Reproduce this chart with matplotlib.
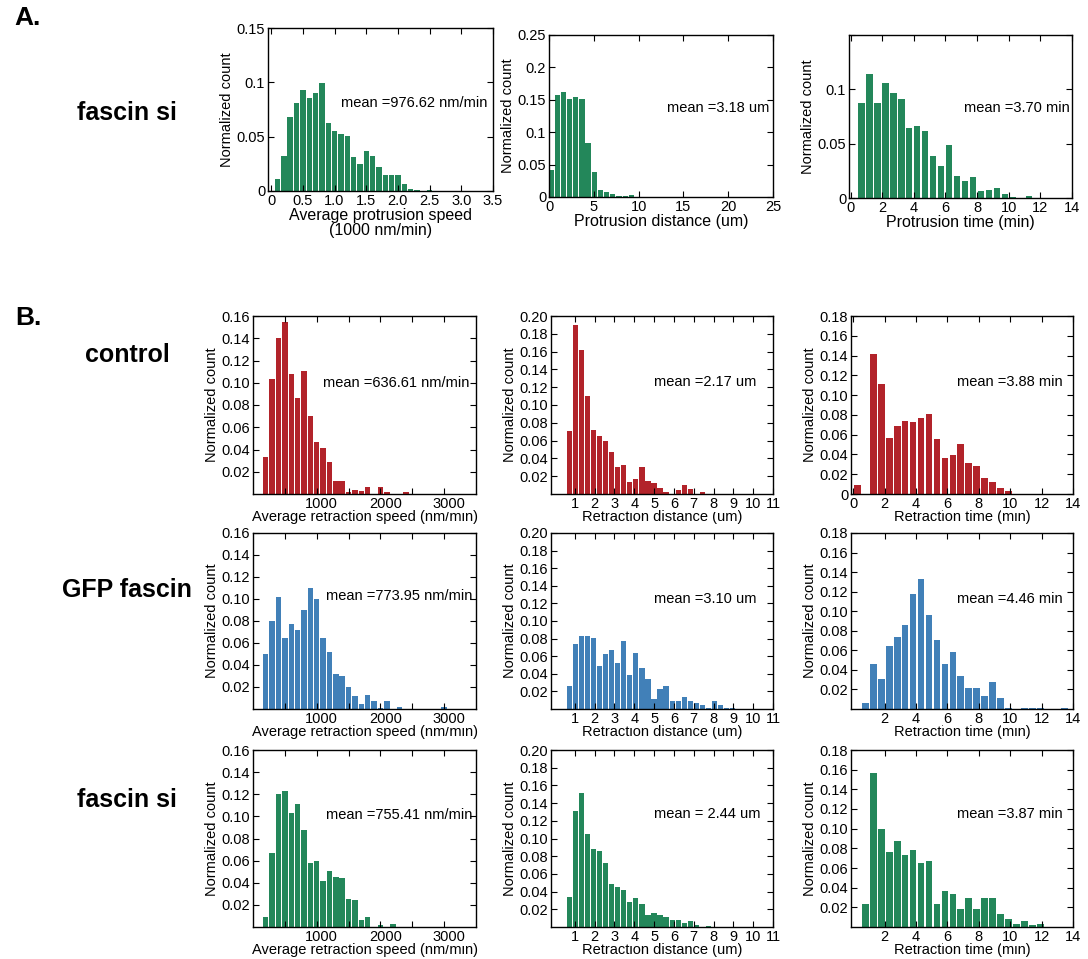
import matplotlib
matplotlib.use('Agg')
import matplotlib.pyplot as plt
import matplotlib.transforms as mtransforms
import numpy as np
from matplotlib.ticker import FixedLocator, FixedFormatter

plt.rcParams['font.family'] = ['Liberation Sans', 'DejaVu Sans']

W, H = 1088, 959
fig = plt.figure(figsize=(W / 100, H / 100), dpi=100)

GREEN = '#23875a'
RED = '#b2232a'
BLUE = '#4180b8'

# ---------------- data (normalized counts per bin) ----------------
# A: fascin si, protrusion
a_speed_start, a_speed_width = 0.1, 0.1
a_speed = [0.011, 0.032, 0.068, 0.081, 0.093, 0.086, 0.090, 0.099, 0.063, 0.055,
           0.052, 0.051, 0.031, 0.025, 0.037, 0.032, 0.022, 0.015, 0.015, 0.015,
           0.006, 0.002, 0.0005, 0.0, 0.0005]
a_dist_start, a_dist_width = 0.22, 0.69
a_dist = [0.042, 0.157, 0.162, 0.152, 0.155, 0.152, 0.083, 0.038, 0.011, 0.007,
          0.005, 0.001, 0.001, 0.003]
a_time_start, a_time_width = 0.67, 0.505
a_time = [0.087, 0.114, 0.087, 0.106, 0.097, 0.091, 0.064, 0.066, 0.062, 0.039,
          0.029, 0.049, 0.020, 0.016, 0.019, 0.006, 0.007, 0.009, 0.004, 0.0005,
          0.0, 0.002]

# B: retraction, three conditions
b_speed_start, b_speed_width = 200, 100
b_speed_control = [0.033, 0.103, 0.140, 0.155, 0.108, 0.086, 0.111, 0.070, 0.047, 0.041,
                   0.029, 0.012, 0.012, 0.002, 0.004, 0.003, 0.006, 0.0, 0.006, 0.002,
                   0.0, 0.0, 0.002]
b_speed_gfp = [0.050, 0.080, 0.102, 0.065, 0.077, 0.072, 0.090, 0.110, 0.100, 0.065,
               0.052, 0.032, 0.030, 0.020, 0.012, 0.005, 0.013, 0.007, 0.001, 0.007,
               0.0, 0.002, 0.0, 0.0, 0.0, 0.0, 0.0, 0.0, 0.002]
b_speed_si = [0.009, 0.067, 0.120, 0.123, 0.103, 0.111, 0.088, 0.058, 0.060, 0.042,
              0.051, 0.045, 0.044, 0.025, 0.024, 0.006, 0.009, 0.0, 0.002, 0.0, 0.003]

b_dist_start, b_dist_width = 0.74, 0.304
b_dist_control = [0.0705, 0.190, 0.162, 0.110, 0.072, 0.065, 0.059, 0.047, 0.030, 0.033,
                  0.0135, 0.017, 0.030, 0.015, 0.012, 0.007, 0.002, 0.0, 0.005, 0.0105,
                  0.0056, 0.0, 0.002]
b_dist_gfp = [0.026, 0.074, 0.083, 0.083, 0.081, 0.049, 0.062, 0.067, 0.052, 0.077,
              0.039, 0.064, 0.047, 0.034, 0.011, 0.023, 0.026, 0.009, 0.009, 0.014,
              0.009, 0.007, 0.004, 0.001, 0.009, 0.004, 0.001, 0.001]
b_dist_si = [0.034, 0.131, 0.151, 0.105, 0.088, 0.086, 0.072, 0.049, 0.045, 0.042,
             0.028, 0.033, 0.026, 0.013, 0.016, 0.014, 0.011, 0.008, 0.008, 0.004,
             0.007, 0.002, 0.0, 0.001]

b_time_start, b_time_width = 0.25, 0.508
b_time_control = [0.009, 0.0, 0.142, 0.111, 0.057, 0.069, 0.074, 0.073, 0.077, 0.081,
                  0.056, 0.036, 0.039, 0.051, 0.031, 0.028, 0.016, 0.012, 0.006, 0.003]
b_time_gfp = [0.0, 0.006, 0.046, 0.031, 0.064, 0.074, 0.086, 0.118, 0.133, 0.096,
              0.071, 0.046, 0.058, 0.034, 0.021, 0.021, 0.013, 0.028, 0.011, 0.001,
              0.0, 0.001, 0.001, 0.001, 0.0, 0.0, 0.001]
b_time_si = [0.0, 0.023, 0.157, 0.100, 0.076, 0.087, 0.073, 0.078, 0.065, 0.067,
             0.023, 0.037, 0.034, 0.018, 0.029, 0.018, 0.029, 0.029, 0.013, 0.008,
             0.003, 0.006, 0.002, 0.003]

means_a = ['mean =976.62 nm/min', 'mean =3.18 um', 'mean =3.70 min']
means_b = [['mean =636.61 nm/min', 'mean =2.17 um', 'mean =3.88 min'],
           ['mean =773.95 nm/min', 'mean =3.10 um', 'mean =4.46 min'],
           ['mean =755.41 nm/min', 'mean = 2.44 um', 'mean =3.87 min']]
row_labels_b = ['control', 'GFP fascin', 'fascin si']
colors_b = [RED, BLUE, GREEN]

FS = 10.5


def px_axes(l, r, t, b):
    return fig.add_axes([l / W, 1 - b / H, (r - l) / W, (b - t) / H])


def style(ax):
    ax.tick_params(direction='in', top=True, right=True, length=4, width=0.8,
                   labelsize=FS, pad=2)
    for s in ax.spines.values():
        s.set_linewidth(1.0)
        s.set_zorder(5)


def hist(ax, start, width, vals, color):
    centers = start + width * np.arange(len(vals))
    ax.bar(centers, vals, width=width * 0.85, color=color, edgecolor='none')


def put_text(ax, box, x, y, s, fs=FS):
    l, r, t, b = box
    ax.text((x - l) / (r - l), (b - y) / (b - t), s, transform=ax.transAxes,
            fontsize=fs, va='center', ha='left')


def white_ticklabels(ax, shift_px=0):
    for lab in ax.get_xticklabels():
        lab.set_bbox(dict(facecolor='white', edgecolor='none', pad=0.5))
        if shift_px:
            lab.set_transform(lab.get_transform() +
                              mtransforms.ScaledTranslation(shift_px / 100, 0, fig.dpi_scale_trans))


# ---------------- panel A ----------------
boxA = [(268, 493, 28, 191), (549, 773, 35, 197), (849, 1072, 35, 198)]
mean_pos_a = [(341, 103), (667, 108), (964, 108)]

ax = px_axes(*boxA[0])
hist(ax, a_speed_start, a_speed_width, a_speed, GREEN)
ax.set_xlim(-0.05, 3.5)
ax.set_ylim(0, 0.15)
ax.xaxis.set_major_locator(FixedLocator([0, 0.5, 1, 1.5, 2, 2.5, 3, 3.5]))
ax.xaxis.set_major_formatter(FixedFormatter(['0', '0.5', '1.0', '1.5', '2.0', '2.5', '3.0', '3.5']))
ax.yaxis.set_major_locator(FixedLocator([0, 0.05, 0.1, 0.15]))
ax.yaxis.set_major_formatter(FixedFormatter(['0', '0.05', '0.1', '0.15']))
ax.set_xlabel('Average protrusion speed\n(1000 nm/min)', fontsize=11.5, labelpad=0, linespacing=1.0)
ax.set_ylabel('Normalized count', fontsize=FS, labelpad=2)
style(ax)
put_text(ax, boxA[0], *mean_pos_a[0], means_a[0])

ax = px_axes(*boxA[1])
hist(ax, a_dist_start, a_dist_width, a_dist, GREEN)
ax.set_xlim(0, 25)
ax.set_ylim(0, 0.25)
ax.xaxis.set_major_locator(FixedLocator([0, 5, 10, 15, 20, 25]))
ax.yaxis.set_major_locator(FixedLocator([0, 0.05, 0.1, 0.15, 0.2, 0.25]))
ax.yaxis.set_major_formatter(FixedFormatter(['0', '0.05', '0.1', '0.15', '0.2', '0.25']))
ax.set_xlabel('Protrusion distance (um)', fontsize=11.5, labelpad=0)
ax.set_ylabel('Normalized count', fontsize=FS, labelpad=2)
style(ax)
put_text(ax, boxA[1], *mean_pos_a[1], means_a[1])

ax = px_axes(*boxA[2])
hist(ax, a_time_start, a_time_width, a_time, GREEN)
ax.set_xlim(-0.1, 14)
ax.set_ylim(0, 0.15)
ax.xaxis.set_major_locator(FixedLocator([0, 2, 4, 6, 8, 10, 12, 14]))
ax.yaxis.set_major_locator(FixedLocator([0, 0.05, 0.1, 0.15]))
ax.yaxis.set_major_formatter(FixedFormatter(['0', '0.05', '0.1', '']))
ax.set_xlabel('Protrusion time (min)', fontsize=11.5, labelpad=0)
ax.set_ylabel('Normalized count', fontsize=FS, labelpad=2)
style(ax)
put_text(ax, boxA[2], *mean_pos_a[2], means_a[2])

# ---------------- panel B ----------------
rows_tb = [(316, 494), (533, 709), (750, 927)]
cols_lr = [(253, 476), (551, 773), (851, 1073)]
mean_pos_b = [[(323, 383), (654, 382), (957, 382)],
              [(326, 596), (654, 599), (957, 599)],
              [(326, 815), (654, 814), (957, 814)]]
speed_data = [b_speed_control, b_speed_gfp, b_speed_si]
dist_data = [b_dist_control, b_dist_gfp, b_dist_si]
time_data = [b_time_control, b_time_gfp, b_time_si]

for r in range(3):
    t, b = rows_tb[r]
    col = colors_b[r]
    # speed
    l, rr = cols_lr[0]
    box = (l, rr, t, b)
    ax = px_axes(*box)
    hist(ax, b_speed_start, b_speed_width, speed_data[r], col)
    ax.set_xlim(0, 3500)
    ax.set_ylim(0, 0.16)
    ax.xaxis.set_major_locator(FixedLocator([500, 1000, 1500, 2000, 2500, 3000]))
    ax.xaxis.set_major_formatter(FixedFormatter(['', '1000', '', '2000', '', '3000']))
    ax.yaxis.set_major_locator(FixedLocator(np.arange(0.02, 0.161, 0.02)))
    ax.yaxis.set_major_formatter(FixedFormatter(['%.2f' % v for v in np.arange(0.02, 0.161, 0.02)]))
    ax.set_ylabel('Normalized count', fontsize=FS, labelpad=2)
    style(ax)
    put_text(ax, box, *mean_pos_b[r][0], means_b[r][0])
    fig.text((l + rr) / 2 / W, 1 - (b + 23) / H, 'Average retraction speed (nm/min)',
             ha='center', va='center', fontsize=FS, zorder=-1)
    white_ticklabels(ax, shift_px=5)

    # distance
    l, rr = cols_lr[1]
    box = (l, rr, t, b)
    ax = px_axes(*box)
    hist(ax, b_dist_start, b_dist_width, dist_data[r], col)
    ax.set_xlim(-0.2, 11)
    ax.set_ylim(0, 0.20)
    ax.xaxis.set_major_locator(FixedLocator(list(range(1, 12))))
    ax.yaxis.set_major_locator(FixedLocator(np.arange(0.02, 0.201, 0.02)))
    ax.yaxis.set_major_formatter(FixedFormatter(['%.2f' % v for v in np.arange(0.02, 0.201, 0.02)]))
    ax.set_ylabel('Normalized count', fontsize=FS, labelpad=2)
    style(ax)
    put_text(ax, box, *mean_pos_b[r][1], means_b[r][1])
    fig.text((l + rr) / 2 / W, 1 - (b + 23) / H, 'Retraction distance (um)',
             ha='center', va='center', fontsize=FS, zorder=-1)
    white_ticklabels(ax)

    # time
    l, rr = cols_lr[2]
    box = (l, rr, t, b)
    ax = px_axes(*box)
    hist(ax, b_time_start, b_time_width, time_data[r], col)
    ax.set_xlim(-0.15, 14)
    ax.set_ylim(0, 0.18)
    if r == 0:
        ax.xaxis.set_major_locator(FixedLocator([0, 2, 4, 6, 8, 10, 12, 14]))
        yt = np.arange(0.0, 0.181, 0.02)
        ax.yaxis.set_major_locator(FixedLocator(yt))
        ax.yaxis.set_major_formatter(FixedFormatter(['0'] + ['%.2f' % v for v in yt[1:]]))
    else:
        ax.xaxis.set_major_locator(FixedLocator([2, 4, 6, 8, 10, 12, 14]))
        yt = np.arange(0.02, 0.181, 0.02)
        ax.yaxis.set_major_locator(FixedLocator(yt))
        ax.yaxis.set_major_formatter(FixedFormatter(['%.2f' % v for v in yt]))
    ax.set_ylabel('Normalized count', fontsize=FS, labelpad=2)
    style(ax)
    put_text(ax, box, *mean_pos_b[r][2], means_b[r][2])
    fig.text((l + rr) / 2 / W, 1 - (b + 23) / H, 'Retraction time (min)',
             ha='center', va='center', fontsize=FS, zorder=-1)
    white_ticklabels(ax)

# ---------------- row / panel labels ----------------
fig.text(28 / W, 1 - 18 / H, 'A.', fontsize=19, fontweight='bold', ha='center', va='center')
fig.text(28 / W, 1 - 318 / H, 'B.', fontsize=19, fontweight='bold', ha='center', va='center')
fig.text(127 / W, 1 - 113 / H, 'fascin si', fontsize=18, fontweight='bold', ha='center', va='center')
row_y = [355, 590, 800]
for r in range(3):
    fig.text(127 / W, 1 - row_y[r] / H, row_labels_b[r], fontsize=18, fontweight='bold',
             ha='center', va='center')

fig.savefig('out.png', dpi=100, facecolor='white')
